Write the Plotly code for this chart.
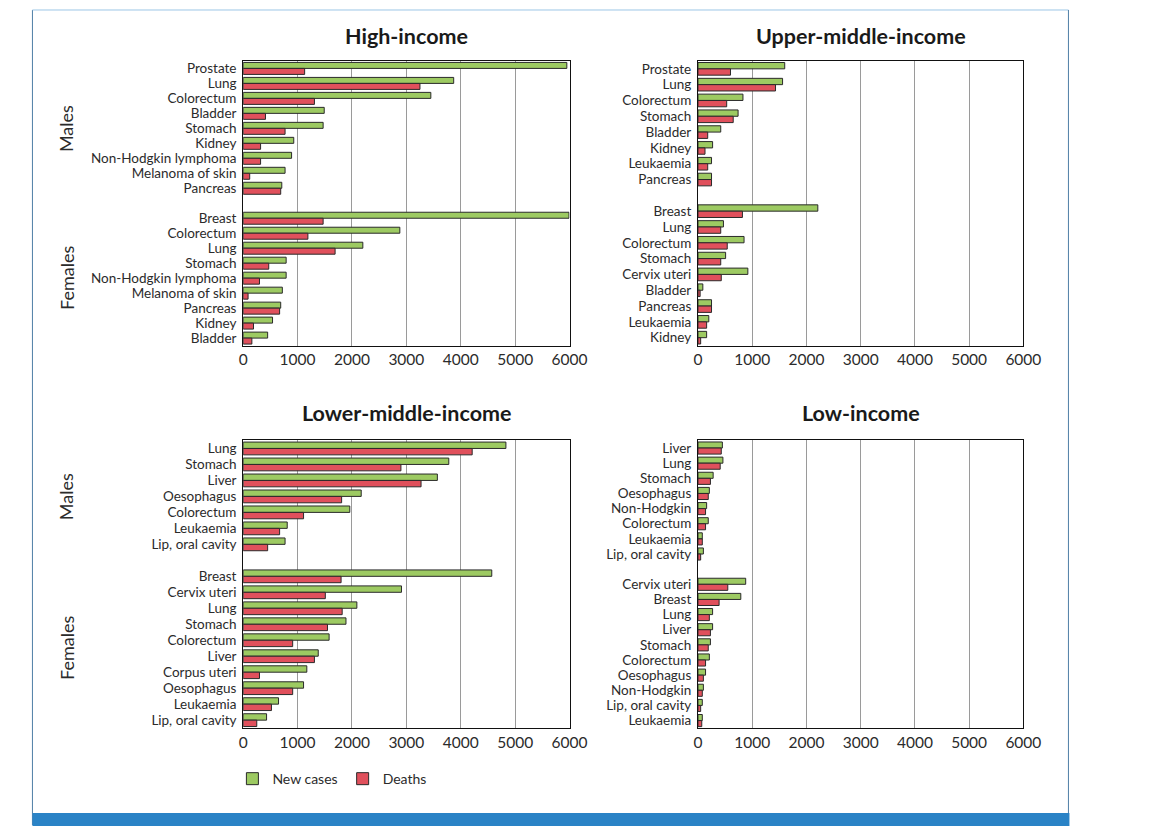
import plotly.graph_objects as go

W, H = 1158, 837

# ---------------- data (thousands) ----------------
hi_m_cats = ["Prostate", "Lung", "Colorectum", "Bladder", "Stomach", "Kidney",
             "Non-Hodgkin lymphoma", "Melanoma of skin", "Pancreas"]
hi_m_new = [5950, 3870, 3450, 1490, 1470, 930, 890, 770, 710]
hi_m_deaths = [1130, 3250, 1310, 410, 770, 320, 320, 120, 690]
hi_f_cats = ["Breast", "Colorectum", "Lung", "Stomach", "Non-Hodgkin lymphoma",
             "Melanoma of skin", "Pancreas", "Kidney", "Bladder"]
hi_f_new = [5990, 2880, 2200, 790, 790, 720, 690, 540, 450]
hi_f_deaths = [1470, 1190, 1690, 470, 300, 90, 670, 190, 160]

um_m_cats = ["Prostate", "Lung", "Colorectum", "Stomach", "Bladder", "Kidney",
             "Leukaemia", "Pancreas"]
um_m_new = [1600, 1560, 830, 740, 420, 270, 250, 250]
um_m_deaths = [600, 1430, 530, 650, 180, 130, 180, 250]
um_f_cats = ["Breast", "Lung", "Colorectum", "Stomach", "Cervix uteri", "Bladder",
             "Pancreas", "Leukaemia", "Kidney"]
um_f_new = [2210, 470, 850, 510, 920, 90, 250, 200, 160]
um_f_deaths = [820, 420, 540, 420, 430, 40, 250, 160, 50]

lm_m_cats = ["Lung", "Stomach", "Liver", "Oesophagus", "Colorectum", "Leukaemia",
             "Lip, oral cavity"]
lm_m_new = [4830, 3780, 3570, 2170, 1960, 810, 770]
lm_m_deaths = [4210, 2900, 3270, 1810, 1110, 670, 450]
lm_f_cats = ["Breast", "Cervix uteri", "Lung", "Stomach", "Colorectum", "Liver",
             "Corpus uteri", "Oesophagus", "Leukaemia", "Lip, oral cavity"]
lm_f_new = [4570, 2910, 2090, 1890, 1580, 1380, 1170, 1110, 650, 430]
lm_f_deaths = [1800, 1510, 1820, 1550, 910, 1310, 300, 910, 520, 250]

li_m_cats = ["Liver", "Lung", "Stomach", "Oesophagus", "Non-Hodgkin", "Colorectum",
             "Leukaemia", "Lip, oral cavity"]
li_m_new = [450, 460, 280, 210, 160, 190, 80, 100]
li_m_deaths = [430, 410, 230, 190, 140, 140, 80, 50]
li_f_cats = ["Cervix uteri", "Breast", "Lung", "Liver", "Stomach", "Colorectum",
             "Oesophagus", "Non-Hodgkin", "Lip, oral cavity", "Leukaemia"]
li_f_new = [880, 790, 270, 270, 230, 210, 140, 100, 80, 80]
li_f_deaths = [550, 390, 210, 230, 190, 140, 100, 80, 50, 70]

panel_titles = ["High-income", "Upper-middle-income", "Lower-middle-income", "Low-income"]
x_ticks = [0, 1000, 2000, 3000, 4000, 5000, 6000]

GREEN = "#9dca62"
RED = "#e0505c"
OUTLINE = "#2a2a2a"
FONT = "Lato"
TXT = "#2b2b2b"

panels = [
    (hi_m_cats, hi_m_new, hi_m_deaths, hi_f_cats, hi_f_new, hi_f_deaths),
    (um_m_cats, um_m_new, um_m_deaths, um_f_cats, um_f_new, um_f_deaths),
    (lm_m_cats, lm_m_new, lm_m_deaths, lm_f_cats, lm_f_new, lm_f_deaths),
    (li_m_cats, li_m_new, li_m_deaths, li_f_cats, li_f_new, li_f_deaths),
]

# pixel boxes (left, right, top, bottom)
boxes = [
    (243, 576, 60, 345),
    (707, 1039, 60, 345),
    (243, 576, 440, 728),
    (707, 1039, 440, 728),
]
title_y = [35, 35, 412, 412]

fig = go.Figure()
layout = {}
annotations = []

for i, (p, box, ttl) in enumerate(zip(panels, boxes, panel_titles)):
    mc, mn, md, fc, fn, fd = p
    ax = "" if i == 0 else str(i + 1)
    xa, ya = "x" + ax, "y" + ax
    ypos_m = list(range(len(mc)))
    ypos_f = [len(mc) + 1 + j for j in range(len(fc))]
    ys = ypos_m + ypos_f
    cats = mc + fc
    newv = mn + fn
    dth = md + fd
    fig.add_trace(go.Bar(
        y=ys, x=newv, orientation="h", name="New cases",
        marker=dict(color=GREEN, line=dict(color=OUTLINE, width=1)),
        xaxis=xa, yaxis=ya, showlegend=(i == 0), legendgroup="n",
    ))
    fig.add_trace(go.Bar(
        y=ys, x=dth, orientation="h", name="Deaths",
        marker=dict(color=RED, line=dict(color=OUTLINE, width=1)),
        xaxis=xa, yaxis=ya, showlegend=(i == 0), legendgroup="d",
    ))
    l, r, t, b = box
    n_slots = len(mc) + 1 + len(fc)
    layout["xaxis" + ax] = dict(
        domain=[l / W, r / W], anchor=ya, range=[0, 6000],
        tickvals=x_ticks, ticktext=[str(v) for v in x_ticks],
        showgrid=True, gridcolor="#9a9a9a", gridwidth=1,
        showline=True, linecolor="#111", linewidth=1, mirror=True,
        ticks="", zeroline=False,
        tickfont=dict(family=FONT, size=15.5, color=TXT),
    )
    layout["yaxis" + ax] = dict(
        domain=[1 - b / H, 1 - t / H], anchor=xa,
        range=[n_slots - 0.5, -0.5],
        tickvals=ys, ticktext=cats, showgrid=False,
        showline=True, linecolor="#111", linewidth=1, mirror=True,
        ticks="", zeroline=False, ticklabelstandoff=3,
        tickfont=dict(family=FONT, size=13.5, color=TXT),
    )
    annotations.append(dict(
        text="<b>" + ttl + "</b>", xref="paper", yref="paper",
        x=(l + r) / 2 / W, y=1 - title_y[i] / H, showarrow=False,
        xanchor="center", yanchor="middle",
        font=dict(family=FONT, size=21.5, color="#1a1a1a"),
    ))
    if i in (0, 2):
        for label, pos in (("Males", ypos_m), ("Females", ypos_f)):
            annotations.append(dict(
                text=label, xref="paper", yref=ya,
                x=63 / W, y=(pos[0] + pos[-1]) / 2, showarrow=False,
                textangle=-90, xanchor="center", yanchor="middle",
                font=dict(family=FONT, size=18, color=TXT),
            ))

frame_col = "#4f7fa6"
shapes = [
    dict(type="line", xref="paper", yref="paper", x0=28 / W, x1=28 / W,
         y0=1 - 9 / H, y1=1 - 825 / H, line=dict(color=frame_col, width=1)),
    dict(type="line", xref="paper", yref="paper", x0=28 / W, x1=1085 / W,
         y0=1 - 9 / H, y1=1 - 9 / H, line=dict(color="#9cc6e6", width=1)),
    dict(type="line", xref="paper", yref="paper", x0=1085 / W, x1=1085 / W,
         y0=1 - 9 / H, y1=1 - 813 / H, line=dict(color=frame_col, width=1)),
    dict(type="rect", xref="paper", yref="paper", x0=28 / W, x1=1086 / W,
         y0=1 - 813 / H, y1=1 - 826 / H, fillcolor="#2a83c6",
         line=dict(width=0)),
]

fig.update_layout(
    width=W, height=H, margin=dict(l=0, r=0, t=0, b=0),
    paper_bgcolor="white", plot_bgcolor="white",
    barmode="group", bargap=0.2, bargroupgap=0,
    annotations=annotations, shapes=shapes,
    legend=dict(orientation="h", x=232 / W, y=1 - 779 / H, xanchor="left",
                yanchor="middle", font=dict(family=FONT, size=14, color=TXT),
                itemwidth=30, traceorder="normal", bgcolor="rgba(0,0,0,0)"),
    **layout,
)

fig.write_html(
    "out.html",
    config={"responsive": False, "displayModeBar": False},
    post_script="document.body.style.margin='0';document.body.style.overflow='hidden';",
)
